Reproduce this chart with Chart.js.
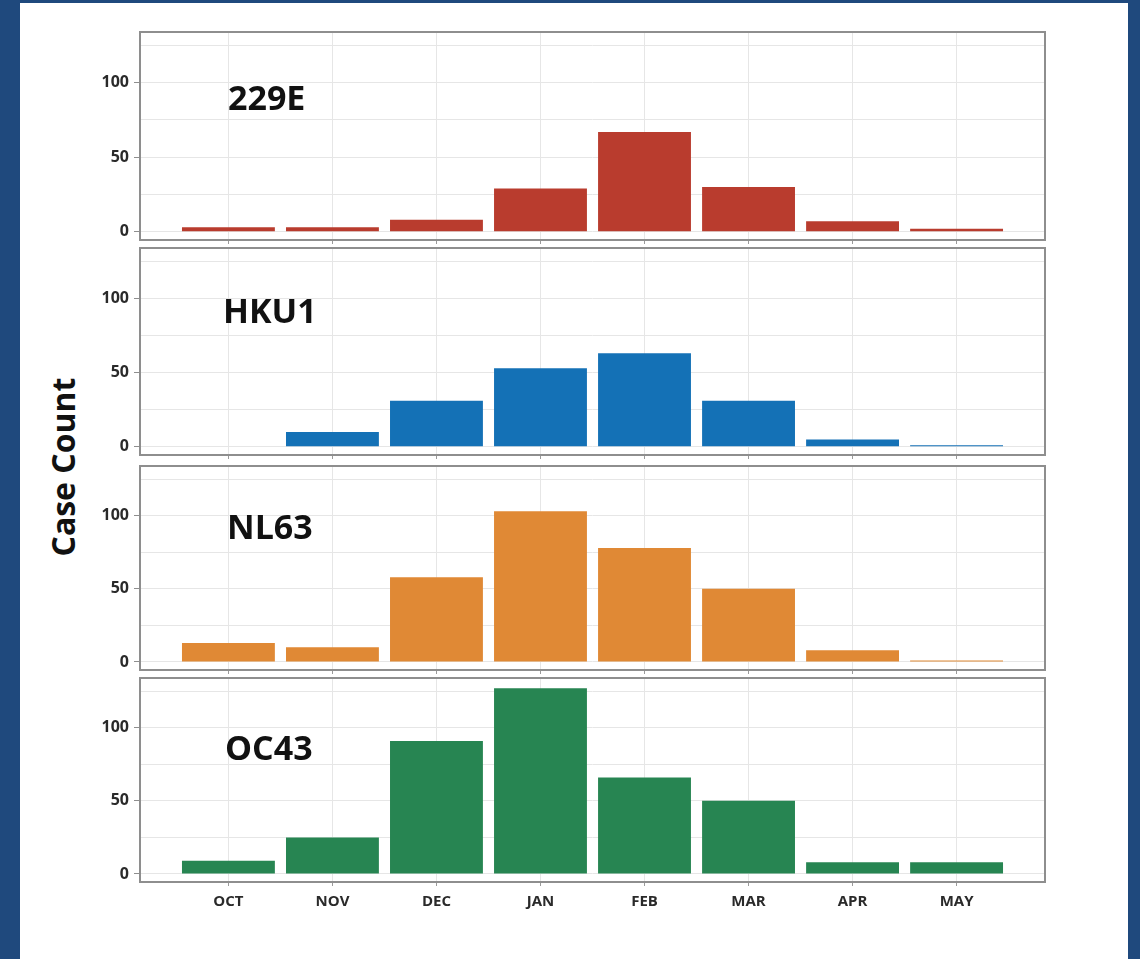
<!DOCTYPE html>
<html><head><meta charset="utf-8">
<script src="https://cdn.jsdelivr.net/npm/chart.js@4.4.1/dist/chart.umd.min.js"></script>
<style>
html,body{margin:0;padding:0;background:#1f497d;width:1140px;height:959px;overflow:hidden}
#sheet{position:absolute;left:20px;top:3px;width:1108px;height:956px;background:#fff}
canvas{position:absolute;left:40px}
#ylabel{position:absolute;left:62px;top:467px;transform:translate(-50%,-50%) rotate(-90deg);font:700 32px 'Open Sans';color:#111;white-space:nowrap}
</style></head><body>
<div id="sheet"></div>
<div id="ylabel">Case Count</div>
<canvas id="c0"></canvas><canvas id="c1"></canvas><canvas id="c2"></canvas><canvas id="c3"></canvas>
<script>
// ---- data ----
const months = ['OCT','NOV','DEC','JAN','FEB','MAR','APR','MAY'];
const virusNames = ['229E','HKU1','NL63','OC43'];
const cases229E = [3, 3, 8, 29, 67, 30, 7, 2];
const casesHKU1 = [0, 10, 31, 53, 63, 31, 5, 1];
const casesNL63 = [13, 10, 58, 103, 78, 50, 8, 1];
const casesOC43 = [9, 25, 91, 127, 66, 50, 8, 8];
const yTickLabels = [0, 50, 100];

// ---- layout / style (not data) ----
const seriesValues = [cases229E, casesHKU1, casesNL63, casesOC43];
const colors = ['#b93c2e', '#1471b6', '#e08935', '#278552'];
const panels = [
  {top: 32,  bottom: 240, labelX: 88, labelY: 68},
  {top: 248, bottom: 455, labelX: 83, labelY: 65},
  {top: 466, bottom: 670, labelX: 87, labelY: 63},
  {top: 678, bottom: 882, labelX: 85, labelY: 72}
];
const PAD_TOP = 20;
const CANVAS_W = 1020;
const Y_AXIS_W = 100;
const PAD_RIGHT = 15;

const framePlugin = {
  id: 'frame',
  afterDatasetsDraw(chart) {
    const {ctx, chartArea: a} = chart;
    ctx.save();
    ctx.strokeStyle = '#8e8e8e';
    ctx.lineWidth = 2;
    ctx.strokeRect(a.left, a.top, a.right - a.left, a.bottom - a.top);
    ctx.restore();
  }
};
const panelLabelPlugin = {
  id: 'panelLabel',
  afterDraw(chart, args, opts) {
    const {ctx, chartArea: a} = chart;
    ctx.save();
    ctx.font = "700 34px 'Open Sans'";
    ctx.fillStyle = '#111';
    ctx.textAlign = 'left';
    ctx.textBaseline = 'middle';
    ctx.fillText(opts.text, a.left + opts.dx, a.top + opts.dy);
    ctx.restore();
  }
};

const tickFont = {family: "'Open Sans'", weight: '700', size: 15};
const yTickFont = {family: "'Open Sans'", weight: '700', size: 16};

panels.forEach((p, i) => {
  const isLast = i === panels.length - 1;
  const xH = isLast ? 40 : 20;
  const cv = document.getElementById('c' + i);
  const h = PAD_TOP + (p.bottom - p.top) + xH;
  cv.width = CANVAS_W; cv.height = h;
  cv.style.width = CANVAS_W + 'px'; cv.style.height = h + 'px';
  cv.style.top = (p.top - PAD_TOP) + 'px';
  cv.style.zIndex = String(i + 1);

  new Chart(cv, {
    type: 'bar',
    data: {
      datasets: [{
        label: virusNames[i],
        data: seriesValues[i].map((v, k) => ({x: k, y: v})),
        backgroundColor: colors[i],
        borderWidth: 0,
        categoryPercentage: 1,
        barPercentage: 0.893
      }]
    },
    options: {
      responsive: false,
      animation: false,
      devicePixelRatio: 1,
      layout: {padding: {top: PAD_TOP, right: PAD_RIGHT, left: 0, bottom: 0}},
      plugins: {
        legend: {display: false},
        tooltip: {enabled: false},
        panelLabel: {text: virusNames[i], dx: p.labelX, dy: p.labelY}
      },
      scales: {
        x: {
          type: 'linear',
          min: -0.85, max: 7.85,
          offset: false,
          afterFit(s) { s.height = xH; },
          border: {display: false},
          grid: {offset: false, color: '#e6e6e6', lineWidth: 1, tickLength: 4, tickColor: '#9a9a9a'},
          ticks: {
            display: isLast,
            stepSize: 1,
            includeBounds: false,
            autoSkip: false,
            maxRotation: 0,
            padding: 7,
            color: '#2a2a2a',
            font: tickFont,
            callback: v => months[v] ?? ''
          }
        },
        y: {
          min: -5.5, max: 134,
          afterFit(s) { s.width = Y_AXIS_W; },
          border: {display: false},
          grid: {
            color: '#e6e6e6', lineWidth: 1, tickLength: 6,
            tickColor: c => (c.tick && yTickLabels.includes(c.tick.value)) ? '#8e8e8e' : 'rgba(0,0,0,0)'
          },
          ticks: {
            stepSize: 25,
            includeBounds: false,
            padding: 5,
            color: '#2a2a2a',
            font: yTickFont,
            callback: v => yTickLabels.includes(v) ? String(v) : ''
          }
        }
      }
    },
    plugins: [framePlugin, panelLabelPlugin]
  });
});
</script>
</body></html>
